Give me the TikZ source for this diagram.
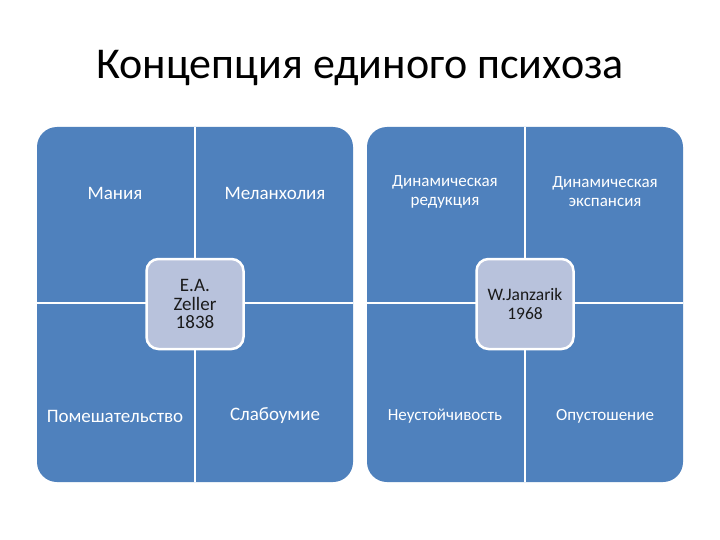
\documentclass[tikz,border=0pt]{standalone}
\usepackage{fontspec}
\setmainfont{Carlito}
\definecolor{qblue}{HTML}{4F81BD}
\definecolor{cbox}{HTML}{B8C2DC}
\definecolor{ctext}{HTML}{1A1A1A}
\begin{document}
\begin{tikzpicture}[x=1pt,y=-1pt,
  quad/.style={fill=qblue},
  gap/.style={draw=white,line width=2.5pt},
  lbl/.style={text=white,font=\fontsize{19}{20}\selectfont,align=center,inner sep=0pt},
  lbls/.style={text=white,font=\fontsize{17}{19}\selectfont,align=center,inner sep=0pt},
  centerbox/.style={draw=white,line width=2.5pt,fill=cbox,rounded corners=12pt,minimum width=97pt,minimum height=90pt,inner sep=0pt,text=ctext,align=center},
  ttl/.style={font=\fontsize{44}{48}\selectfont,text=black,inner sep=0pt}]
\useasboundingbox (0,0) rectangle (720,540);
\fill[white] (0,0) rectangle (720,540);
\node[ttl] (title) at (360,68) {Концепция единого психоза};
% left matrix
\fill[quad,rounded corners=20pt] (37,127) rectangle (353,482);
\coordinate (lt) at (195,127);
\coordinate (lb) at (195,482);
\coordinate (ll) at (37,303);
\coordinate (lr) at (353,303);
\draw[gap] (lt) -- (lb);
\draw[gap] (ll) -- (lr);
\node[lbl] (mania) at (115,193) {Мания};
\node[lbl] (melan) at (275,193) {Меланхолия};
\node[lbl] (pomesh) at (115,416) {Помешательство};
\node[lbl] (slab) at (275,416) {Слабоумие};
\node[centerbox,font=\fontsize{19}{18.5}\selectfont] (zeller) at (195,304) {E.A.\\Zeller\\1838};
% right matrix
\fill[quad,rounded corners=20pt] (367,127) rectangle (683,482);
\coordinate (rt) at (525,127);
\coordinate (rb) at (525,482);
\coordinate (rl) at (367,303);
\coordinate (rr) at (683,303);
\draw[gap] (rt) -- (rb);
\draw[gap] (rl) -- (rr);
\node[lbls] (dred) at (445,192) {Динамическая\\редукция};
\node[lbls] (dexp) at (605,192) {Динамическая\\экспансия};
\node[lbls] (neust) at (445,416) {Неустойчивость};
\node[lbls] (opust) at (605,416) {Опустошение};
\node[centerbox,font=\fontsize{17.5}{18.5}\selectfont] (janz) at (525,304) {W.Janzarik\\1968};
\end{tikzpicture}
\end{document}
